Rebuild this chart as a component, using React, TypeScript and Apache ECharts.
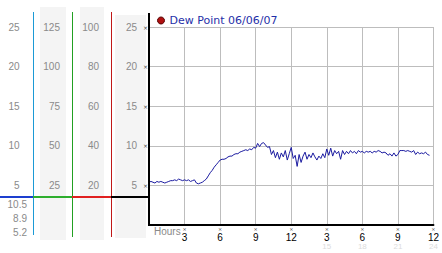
import React, { useEffect, useRef } from 'react';
import * as echarts from 'echarts';

const seriesName = 'Dew Point 06/06/07';
const stepHours = 1 / 6; // one reading every 10 minutes
const dewPoint = [
  5.4, 5.5, 5.4, 5.3, 5.5, 5.4,
  5.5, 5.4, 5.3, 5.4, 5.5, 5.6,
  5.6, 5.7, 5.6, 5.8, 5.7, 5.6,
  5.7, 5.6, 5.7, 5.5, 5.6, 5.7,
  5.3, 5.2, 5.3, 5.4, 5.6, 5.8,
  6.2, 6.6, 6.9, 7.3, 7.6, 7.9,
  8.2, 8.3, 8.3, 8.4, 8.6, 8.7,
  8.7, 8.9, 9.0, 9.0, 9.2, 9.3,
  9.4, 9.5, 9.4, 9.6, 9.5, 9.8,
  9.7, 10.3, 9.9, 10.3, 10.4, 10.1,
  9.8, 9.9, 8.9, 9.4, 8.5, 9.2,
  8.3, 9.1, 8.6, 9.4, 8.2, 9.0,
  9.8, 8.4, 8.8, 7.4, 8.9, 7.9,
  8.7, 9.2, 8.3, 8.9, 8.5, 9.1,
  8.6, 8.2, 8.7, 8.4, 9.0, 8.5,
  9.6, 8.8, 9.7, 8.7, 9.4, 9.0,
  9.3, 8.3, 9.4, 8.9, 9.3, 9.0,
  9.4, 9.1, 9.3, 9.0, 9.4, 9.2,
  9.3, 9.1, 9.3, 9.2, 9.3, 9.1,
  9.3, 9.2, 9.4, 9.3, 9.1, 9.2,
  9.1, 8.8, 9.0, 8.7, 9.1, 8.7,
  8.9, 9.4, 9.4, 9.4, 9.3, 9.4,
  9.3, 9.2, 9.4, 8.9, 9.2, 9.0,
  9.1, 9.0, 9.2, 8.9, 8.8,
];

// x tick labels (every 3 hours)
const clockLabels = ['', '3', '6', '9', '12', '3', '6', '9', '12'];
const hour24Labels = ['', '', '', '', '', '15', '18', '21', '24'];

// extra left scales
const scaleMaxes = [25, 125, 100];
const scaleIntervals = [5, 25, 20];
const scaleOffsets = [129.5, 89, 50];

const readings = ['10.5', '8.9', '5.2'];

const NUM_FONT = 'Liberation Sans';
const GRAY = '#8a8a8a';

export default function App() {
  const ref = useRef<HTMLDivElement>(null);
  useEffect(() => {
    document.body.style.margin = '0';
    const chart = echarts.init(ref.current!, null, { renderer: 'svg' });
    const data = dewPoint.map((v, i) => [i * stepHours, v]);

    const extraAxes = scaleMaxes.map((mx, i) => ({
      type: 'value',
      position: 'left',
      offset: scaleOffsets[i],
      min: 0,
      max: mx,
      interval: scaleIntervals[i],
      axisLine: { show: false },
      axisTick: { show: false },
      splitLine: { show: false },
      axisLabel: {
        margin: 0,
        color: GRAY,
        fontFamily: NUM_FONT,
        fontSize: 10,
        formatter: (v: number) => (v === 0 ? '' : String(v)),
      },
    }));

    const bg = '#f4f4f4';
    const graphic: any[] = [
      { type: 'rect', z: -10, shape: { x: 40, y: 7, width: 26, height: 233 }, style: { fill: bg } },
      { type: 'rect', z: -10, shape: { x: 80, y: 7, width: 24, height: 233 }, style: { fill: bg } },
      { type: 'rect', z: -10, shape: { x: 115, y: 15, width: 31, height: 223 }, style: { fill: bg } },
      { type: 'line', shape: { x1: 33.5, y1: 12, x2: 33.5, y2: 235 }, style: { stroke: '#1b9ad6', lineWidth: 1 } },
      { type: 'line', shape: { x1: 72.5, y1: 12, x2: 72.5, y2: 237 }, style: { stroke: '#22a022', lineWidth: 1 } },
      { type: 'line', shape: { x1: 111.5, y1: 12, x2: 111.5, y2: 237 }, style: { stroke: '#c01818', lineWidth: 1 } },
      { type: 'line', shape: { x1: 0, y1: 197, x2: 33, y2: 197 }, style: { stroke: '#1d3fcf', lineWidth: 2 } },
      { type: 'line', shape: { x1: 33, y1: 197, x2: 72, y2: 197 }, style: { stroke: '#2eae2e', lineWidth: 2 } },
      { type: 'line', shape: { x1: 72, y1: 197, x2: 111, y2: 197 }, style: { stroke: '#e02020', lineWidth: 2 } },
      { type: 'line', shape: { x1: 111, y1: 197, x2: 149, y2: 197 }, style: { stroke: '#000', lineWidth: 2 } },
      { type: 'line', z: 10, shape: { x1: 149, y1: 13, x2: 149, y2: 226 }, style: { stroke: '#000', lineWidth: 2 } },
      {
        type: 'text', x: 154, y: 231.5,
        style: { text: 'Hours', fill: GRAY, font: `10px "${NUM_FONT}"`, textVerticalAlign: 'middle', verticalAlign: 'middle' },
      },
      ...readings.map((t, i) => ({
        type: 'text', x: 27, y: 204.5 + i * 14,
        style: {
          text: t, fill: GRAY, font: `10px "${NUM_FONT}"`,
          textAlign: 'right', align: 'right', textVerticalAlign: 'middle', verticalAlign: 'middle',
        },
      })),
    ];

    chart.setOption({
      animation: false,
      grid: { left: 149, top: 27, width: 289, height: 198 },
      legend: {
        left: 157, top: 15, padding: 0,
        icon: 'circle', itemWidth: 7, itemHeight: 7,
        textStyle: { color: '#1f2fa8', fontSize: 11, fontFamily: 'DejaVu Sans' },
        data: [{ name: seriesName, itemStyle: { color: '#b01010', borderColor: '#500', borderWidth: 1 } }],
      },
      xAxis: {
        type: 'value', min: 0, max: 24, interval: 3,
        axisLine: { lineStyle: { color: '#000', width: 2 } },
        axisTick: { show: false },
        splitLine: { lineStyle: { color: '#bdbdbd', width: 1 } },
        axisLabel: {
          margin: 1,
          formatter: (v: number) => {
            const i = Math.round(v / 3);
            if (!clockLabels[i]) return '';
            return hour24Labels[i]
              ? `{m|×}\n{n|${clockLabels[i]}}\n{f|${hour24Labels[i]}}`
              : `{m|×}\n{n|${clockLabels[i]}}`;
          },
          rich: {
            m: { fontSize: 5, lineHeight: 6, color: '#444', fontFamily: 'DejaVu Sans' },
            n: { fontSize: 10, lineHeight: 10, color: '#000', fontFamily: NUM_FONT },
            f: { fontSize: 8, lineHeight: 8, color: '#dcdcdc', fontFamily: NUM_FONT },
          },
        },
      },
      yAxis: [
        {
          type: 'value', min: 0, max: 25, interval: 5,
          axisLine: { show: false },
          axisTick: { show: false },
          splitLine: { lineStyle: { color: '#bdbdbd', width: 1 } },
          axisLabel: {
            margin: 1,
            formatter: (v: number) => (v === 0 ? '' : `{n|${v}}{m|×}`),
            rich: {
              n: { fontSize: 10, color: GRAY, fontFamily: NUM_FONT },
              m: { fontSize: 6, color: '#444', width: 11, align: 'right', fontFamily: 'DejaVu Sans' },
            },
          },
        },
        ...extraAxes,
      ],
      series: [
        {
          name: seriesName,
          type: 'line',
          data,
          showSymbol: false,
          lineStyle: { color: '#1a1aa0', width: 1 },
          itemStyle: { color: '#1a1aa0' },
        },
      ],
      graphic,
    });
    return () => chart.dispose();
  }, []);
  return <div ref={ref} style={{ width: 442, height: 253 }} />;
}
